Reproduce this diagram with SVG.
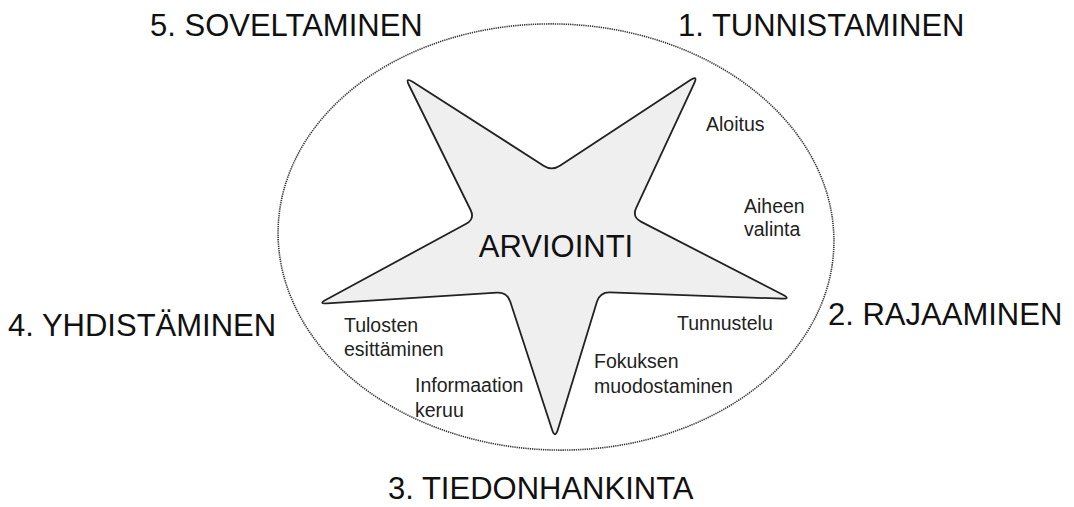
<svg xmlns="http://www.w3.org/2000/svg" width="1074" height="507" viewBox="0 0 1074 507">
<style>
.big{font-family:"Liberation Sans",Arial,sans-serif;font-size:31px;fill:#111}
.small{font-family:"Liberation Sans",Arial,sans-serif;font-size:19.5px;fill:#222}
.ring{fill:none;stroke:#333;stroke-width:1.6;stroke-dasharray:1.3 0.9}
.star{fill:#efefef;stroke:#222;stroke-width:1.8;stroke-linejoin:round}
</style>
<rect width="1074" height="507" fill="#fff"/>
<g id="cycle">
<ellipse class="ring" cx="556" cy="237" rx="278" ry="213" transform="rotate(2 556 237)"/>
</g>
<g id="star">
<path class="star" d="M 544,165.9 Q 552,171 559.9,165.8 L 690.4,80 Q 698,75 694.3,83.2 L 636.2,207.9 Q 632,217 640.9,221.6 L 782.9,294.8 Q 791,299 782,298.7 L 610,292.3 Q 600,292 597,301.5 L 557.9,429.5 Q 555,439 552,429.5 L 510.2,301.5 Q 507,292 497,292.6 L 327,303.4 Q 318,304 326,299.7 L 466.2,223.8 Q 475,219 470.6,210 L 408.9,85 Q 405,77 412.6,81.8 Z"/>
<text class="big" x="556" y="257" text-anchor="middle">ARVIOINTI</text>
</g>
<g id="phase1"><text class="big" x="678" y="36">1. TUNNISTAMINEN</text></g>
<g id="phase2"><text class="big" x="828" y="325">2. RAJAAMINEN</text></g>
<g id="phase3"><text class="big" x="388" y="499">3. TIEDONHANKINTA</text></g>
<g id="phase4"><text class="big" x="8" y="336">4. YHDISTÄMINEN</text></g>
<g id="phase5"><text class="big" x="150" y="36">5. SOVELTAMINEN</text></g>
<g id="aloitus"><text class="small" x="706" y="131">Aloitus</text></g>
<g id="aiheen"><text class="small" x="744" y="213">Aiheen</text><text class="small" x="744" y="236">valinta</text></g>
<g id="tunnustelu"><text class="small" x="677" y="330">Tunnustelu</text></g>
<g id="fokus"><text class="small" x="594" y="368">Fokuksen</text><text class="small" x="594" y="393">muodostaminen</text></g>
<g id="info"><text class="small" x="415" y="392">Informaation</text><text class="small" x="415" y="417">keruu</text></g>
<g id="tulosten"><text class="small" x="344" y="332">Tulosten</text><text class="small" x="344" y="356">esittäminen</text></g>
</svg>
